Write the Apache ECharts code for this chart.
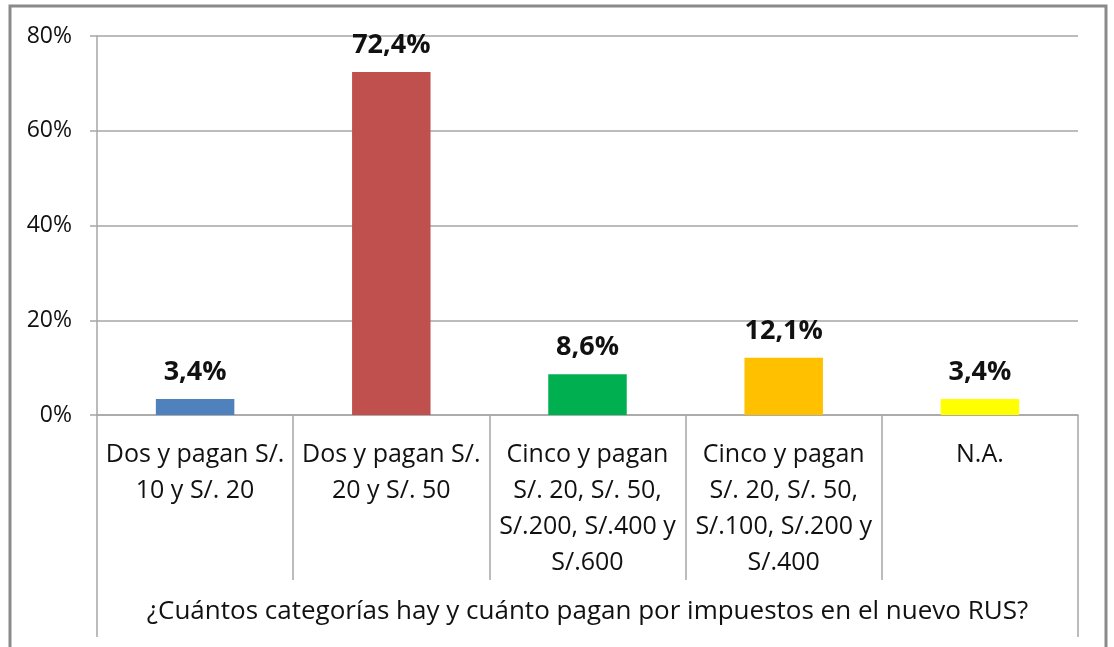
<!DOCTYPE html>
<html>
<head>
<meta charset="utf-8">
<script src="https://cdn.jsdelivr.net/npm/echarts@6/dist/echarts.min.js"></script>
<style>
html,body{margin:0;padding:0;background:#fff;}
#chart{width:1114px;height:647px;}
</style>
</head>
<body>
<div id="chart"></div>
<script>
const categories = [
  'Dos y pagan S/.\n10 y S/. 20',
  'Dos y pagan S/.\n20 y S/. 50',
  'Cinco y pagan\nS/. 20, S/. 50,\nS/.200, S/.400 y\nS/.600',
  'Cinco y pagan\nS/. 20, S/. 50,\nS/.100, S/.200 y\nS/.400',
  'N.A.'
];
const values = [3.4, 72.4, 8.6, 12.1, 3.4];
const barColors = ['#4F81BD', '#C0504D', '#00B050', '#FFC000', '#FFFF00'];
const axisTitle = ['¿Cuántos categorías hay y cuánto pagan por impuestos en el nuevo RUS?'];
const yTicks = { min: 0, max: 80, interval: 20 };

const FONT = 'Open Sans';
const chart = echarts.init(document.getElementById('chart'), null, { renderer: 'canvas' });
const gray = '#a6a6a6';
chart.setOption({
  animation: false,
  textStyle: { fontFamily: FONT },
  graphic: [{
    type: 'rect', silent: true,
    shape: { x: 10, y: 6, width: 1096, height: 720 },
    style: { fill: 'none', stroke: '#8a8a8a', lineWidth: 3 }
  }],
  grid: { left: 97, right: 36, top: 36, bottom: 232, containLabel: false },
  xAxis: [{
    type: 'category',
    position: 'bottom',
    data: categories,
    axisLine: { show: true, lineStyle: { color: gray, width: 1.5 } },
    axisTick: { show: true, interval: 0, length: 165, lineStyle: { color: gray, width: 1.5 } },
    axisLabel: {
      interval: 0, margin: 22, color: '#111', fontSize: 25, fontFamily: FONT,
      lineHeight: 36, align: 'center', overflow: 'none'
    },
    splitLine: { show: false }
  }, {
    type: 'category',
    position: 'bottom',
    data: axisTitle,
    axisLine: { show: false },
    axisTick: { show: true, interval: 0, length: 222, lineStyle: { color: gray, width: 1.5 } },
    axisLabel: { interval: 0, margin: 182, color: '#111', fontSize: 26, fontFamily: FONT, lineHeight: 30 },
    splitLine: { show: false }
  }],
  yAxis: {
    type: 'value',
    min: yTicks.min, max: yTicks.max, interval: yTicks.interval,
    axisLine: { show: true, lineStyle: { color: gray, width: 1.5 } },
    axisTick: { show: true, length: 7, lineStyle: { color: gray, width: 1.5 } },
    axisLabel: { formatter: v => v + '%', color: '#111', fontSize: 23, fontFamily: FONT, margin: 25 },
    splitLine: { show: true, lineStyle: { color: gray, width: 1.5 } }
  },
  series: [{
    type: 'bar',
    xAxisIndex: 0,
    barWidth: '40%',
    data: values.map((v, i) => ({ value: v, itemStyle: { color: barColors[i] } })),
    label: {
      show: true, position: 'top', distance: 13,
      formatter: p => p.value.toFixed(1).replace('.', ',') + '%',
      color: '#111', fontSize: 27, fontWeight: 'bold', fontFamily: FONT
    }
  }]
});
</script>
</body>
</html>
